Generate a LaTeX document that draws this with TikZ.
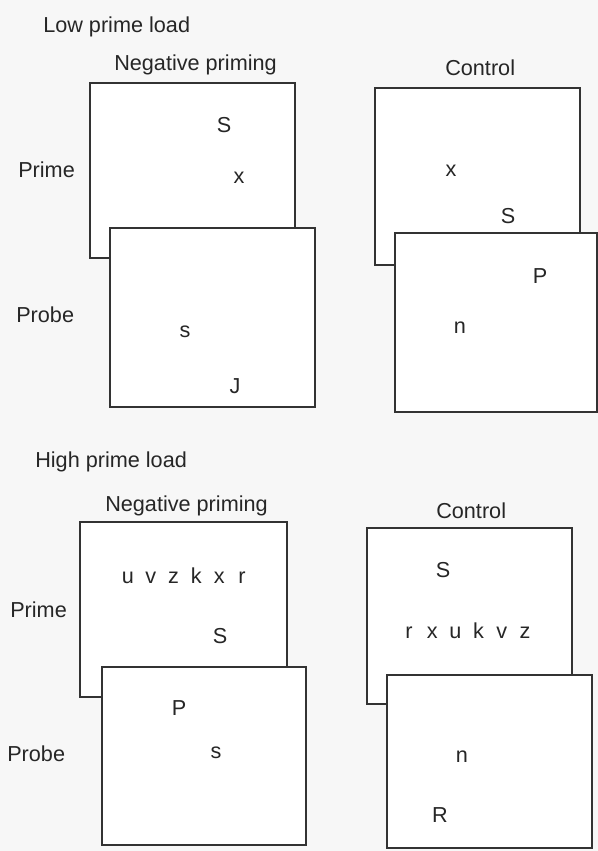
\documentclass[tikz,border=0pt]{standalone}
\usepackage{fontspec}
\setmainfont{Liberation Sans}
\usepackage{tikz}

\begin{document}
\begin{tikzpicture}[
  x=0.25mm, y=-0.25mm,
  font=\fontsize{15.4pt}{18pt}\selectfont, text=black!85,
  card/.style={draw=black!80, line width=1.05pt, fill=white},
  lbl/.style={anchor=base west, inner sep=0pt},
  ltr/.style={anchor=base, inner sep=0pt}]

\fill[black!3] (0,0) rectangle (598,851);
\useasboundingbox (0,0) rectangle (598,851);

% low prime load
\node[lbl] (lowhead) at (43,32) {Low prime load};
\node[lbl] (lownp)   at (114,70) {Negative priming};
\node[lbl] (lowctl)  at (445,75) {Control};
\node[lbl] (lowprime) at (18,177) {Prime};
\node[lbl] (lowprobe) at (16,322) {Probe};

\draw[card] (90,83) rectangle (295,258);
\node[ltr] (lnpS) at (224,132) {S};
\node[ltr] (lnpx) at (239,183) {x};
\draw[card] (110,228) rectangle (315,407);
\node[ltr] (lnps) at (185,337) {s};
\node[ltr] (lnpJ) at (235,393) {J};

\draw[card] (375,88) rectangle (580,265);
\node[ltr] (lctx) at (451,176) {x};
\node[ltr] (lctS) at (508,223) {S};
\draw[card] (395,233) rectangle (597,412);
\node[ltr] (lctP) at (540,283) {P};
\node[ltr] (lctn) at (460,333) {n};

% high prime load
\node[lbl] (highhead) at (35,467) {High prime load};
\node[lbl] (highnp)   at (105,511) {Negative priming};
\node[lbl] (highctl)  at (436,518) {Control};
\node[lbl] (highprime) at (10,617) {Prime};
\node[lbl] (highprobe) at (7,761) {Probe};

\draw[card] (80,522) rectangle (287,697);
\foreach \c [count=\i] in {u,v,z,k,x,r}
  \node[ltr] (hnp\i) at (128+22.8*\i-22.8,583) {\c};
\node[ltr] (hnpS) at (220,643) {S};
\draw[card] (102,667) rectangle (306,845);
\node[ltr] (hnpP) at (179,715) {P};
\node[ltr] (hnps) at (216,758) {s};

\draw[card] (367,528) rectangle (572,704);
\node[ltr] (hctS) at (443,577) {S};
\foreach \c [count=\i] in {r,x,u,k,v,z}
  \node[ltr] (hct\i) at (409+23.2*\i-23.2,638) {\c};
\draw[card] (387,675) rectangle (592,848);
\node[ltr] (hctn) at (462,762) {n};
\node[ltr] (hctR) at (440,822) {R};
\end{tikzpicture}
\end{document}
